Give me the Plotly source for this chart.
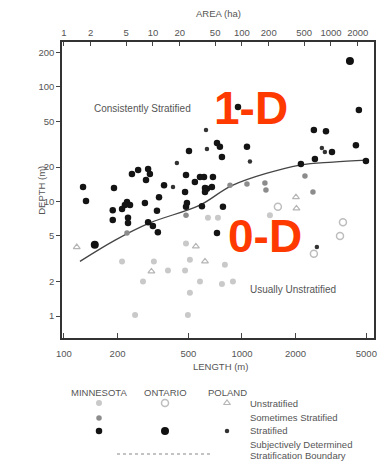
import math
import plotly.graph_objects as go

# ---------------- data (length m, depth m) ----------------
mn_strat_L = [128,133,191,241,261,297,304,289,365,504,485,479,342,285,226,235,220,188,212,333,188,229,229,297,316,337,491,485,596,544,581,612,687,620,620,636,678,782,724,752,1067,772,950,2144,4540,2536,2965,4368,3205,2570,4974,724]
mn_strat_D = [13.4,10.1,13.1,17.4,18.8,19.2,17.4,15.4,13.9,27.6,17.0,12.1,10.9,9.7,9.9,9.3,9.3,8.4,8.6,8.3,6.9,7.2,6.5,6.6,6.1,5.4,9.7,9.0,9.1,14.8,16.4,16.4,16.4,13.1,12.1,12.9,13.4,9.0,32.5,30.0,30.0,24.5,67,21.3,63,42,41,31,27.1,23.5,22.6,5.3]

on_strat_L = [4043, 149]
on_strat_D = [169, 4.2]

pl_strat_L = [431, 410, 636, 628, 1109, 2812, 2924, 2636]
pl_strat_D = [21.7, 13.4, 28.7, 42, 22.3, 29.3, 27.1, 4.0]

mn_some_L = [857, 1067, 1346, 1364, 2259, 2506, 226, 485]
mn_some_D = [13.9, 14.2, 14.5, 12.6, 16.7, 12.1, 5.3, 7.6]

mn_unstrat_L = [644, 733, 1436, 802, 772, 890, 212, 320, 384, 278, 510, 479, 581, 510, 251, 497, 485]
mn_unstrat_D = [7.2, 7.2, 7.6, 2.8, 1.9, 2.0, 3.0, 3.0, 2.5, 2.0, 3.1, 2.5, 2.0, 1.6, 1.02, 1.02, 4.3]

on_unstrat_L = [3694, 3556, 1592, 2536]
on_unstrat_D = [6.6, 5.0, 9.0, 3.5]

pl_unstrat_L = [2011, 2024, 310, 551, 620, 118]
pl_unstrat_D = [10.9, 8.7, 2.45, 4.05, 3.0, 4.0]

boundary_L = [123, 194, 304, 581, 890, 2118, 3243, 5035]
boundary_D = [3.0, 4.6, 6.5, 9.3, 13.9, 20.8, 22.1, 23.0]

x_ticks = [100, 200, 500, 1000, 2000, 5000]
y_ticks = [1, 2, 5, 10, 20, 50, 100, 200]
area_ticks = [1, 2, 5, 10, 20, 50, 100, 200, 500, 1000, 2000]

L_range = [97.5, 5520]
D_range = [0.643, 247]

FONT = "Liberation Sans, Arial, sans-serif"
TXT = "#555555"

fig = go.Figure()

def pts(L, D, color, size, symbol="circle", line_color=None, lw=0):
    fig.add_trace(go.Scatter(
        x=L, y=D, mode="markers", xaxis="x", yaxis="y",
        marker=dict(color=color, size=size, symbol=symbol,
                    line=dict(color=line_color or color, width=lw)),
        showlegend=False, hoverinfo="skip"))

fig.add_trace(go.Scatter(x=boundary_L, y=boundary_D, mode="lines",
                         line=dict(color="#444444", width=1.3, shape="spline"),
                         showlegend=False, hoverinfo="skip"))
pts(mn_unstrat_L, mn_unstrat_D, "#c9c9c9", 6)
pts(on_unstrat_L, on_unstrat_D, "#bdbdbd", 7, "circle-open", "#bdbdbd", 1.5)
pts(pl_unstrat_L, pl_unstrat_D, "#b5b5b5", 6, "triangle-up-open", "#b5b5b5", 1.2)
pts(mn_some_L, mn_some_D, "#8c8c8c", 5.5)
pts(pl_strat_L, pl_strat_D, "#333333", 4.5)
pts(mn_strat_L, mn_strat_D, "#141414", 6.5)
pts(on_strat_L, on_strat_D, "#111111", 8)

# invisible trace for top axis
area_range = [L_range[0] ** 2 / 1e4, L_range[1] ** 2 / 1e4]
fig.add_trace(go.Scatter(x=area_range, y=[1, 1], xaxis="x2", yaxis="y",
                         mode="markers", marker=dict(opacity=0),
                         showlegend=False, hoverinfo="skip"))

# ---------------- legend (page-pixel-like coordinates on a helper axis) ----------------
legend_cols = {"MINNESOTA": 99, "ONTARIO": 165, "POLAND": 227}
legend_rows = {"Unstratified": 403, "Sometimes Stratified": 418, "Stratified": 431}
legend_keys = [
    ("MINNESOTA", "Unstratified", "#c9c9c9", 6, "circle", 0),
    ("MINNESOTA", "Sometimes Stratified", "#8c8c8c", 5.5, "circle", 0),
    ("MINNESOTA", "Stratified", "#141414", 6.5, "circle", 0),
    ("ONTARIO", "Unstratified", "#bdbdbd", 7, "circle-open", 1.5),
    ("ONTARIO", "Stratified", "#111111", 8, "circle", 0),
    ("POLAND", "Unstratified", "#b5b5b5", 6, "triangle-up-open", 1.2),
    ("POLAND", "Stratified", "#333333", 4.5, "circle", 0),
]
for col, row, c, s, sym, lw in legend_keys:
    fig.add_trace(go.Scatter(x=[legend_cols[col]], y=[legend_rows[row]],
                             xaxis="x3", yaxis="y3", mode="markers",
                             marker=dict(color=c, size=s, symbol=sym, line=dict(color=c, width=lw)),
                             showlegend=False, hoverinfo="skip"))
fig.add_trace(go.Scatter(x=[117, 210], y=[454, 454], xaxis="x3", yaxis="y3", mode="lines",
                         line=dict(color="#888888", width=1.2, dash="dot"),
                         showlegend=False, hoverinfo="skip"))

annotations = []
for name, xp in legend_cols.items():
    annotations.append(dict(text=name, x=xp, y=392, xref="x3", yref="y3", showarrow=False,
                            font=dict(size=9.5, color=TXT, family=FONT)))
row_texts = [("Unstratified", 403), ("Sometimes Stratified", 417), ("Stratified", 430),
             ("Subjectively Determined", 444), ("Stratification Boundary", 455)]
for t, yp in row_texts:
    annotations.append(dict(text=t, x=248, y=yp, xref="x3", yref="y3", showarrow=False,
                            xanchor="left", font=dict(size=9.5, color=TXT, family=FONT)))
annotations.append(dict(text="LENGTH (m)", x=220, y=366, xref="x3", yref="y3", showarrow=False,
                        font=dict(size=9.5, color=TXT, family=FONT)))
annotations.append(dict(text="AREA (ha)", x=0.5, y=1 + (42 - 14) / 415, xref="paper", yref="paper",
                        showarrow=False, xanchor="center", yanchor="middle",
                        font=dict(size=9.5, color=TXT, family=FONT)))
annotations.append(dict(text="DEPTH (m)", x=-0.068, y=math.log10(12.6), xref="paper", yref="y",
                        xanchor="center", yanchor="middle",
                        textangle=-90, showarrow=False, font=dict(size=9.5, color=TXT, family=FONT)))
annotations.append(dict(text="Consistently Stratified", x=math.log10(278), y=math.log10(65),
                        xref="x", yref="y", showarrow=False, font=dict(size=10, color=TXT, family=FONT)))
annotations.append(dict(text="Usually Unstratified", x=math.log10(1930), y=math.log10(1.72),
                        xref="x", yref="y", showarrow=False, font=dict(size=10, color=TXT, family=FONT)))
annotations.append(dict(text="<b>1-D</b>", x=math.log10(1120), y=math.log10(65),
                        xref="x", yref="y", showarrow=False,
                        font=dict(size=46, color="#ff3a00", family=FONT)))
annotations.append(dict(text="<b>0-D</b>", x=math.log10(1346), y=math.log10(5.0),
                        xref="x", yref="y", showarrow=False,
                        font=dict(size=46, color="#ff3a00", family=FONT)))

main_dom = [(457 - 338) / 415, 1]
tickfont = dict(size=9.5, color=TXT, family=FONT)

# the page body has an 8px margin, so the figure is made 8px smaller and margins shifted
fig.update_layout(
    width=381, height=459,
    margin=dict(l=54, r=15, t=34, b=10),
    paper_bgcolor="white", plot_bgcolor="white",
    annotations=annotations,
    xaxis=dict(type="log", range=[math.log10(v) for v in L_range],
               tickvals=x_ticks, ticktext=[str(v) for v in x_ticks],
               ticks="inside", ticklen=5, tickcolor="#444", tickfont=tickfont,
               ticklabelstandoff=6,
               showline=True, linecolor="#333", linewidth=1.5, mirror=True,
               showgrid=False, zeroline=False, anchor="y"),
    xaxis2=dict(type="log", range=[math.log10(v) for v in area_range], overlaying="x",
                side="top", anchor="y",
                tickvals=area_ticks, ticktext=[str(v) for v in area_ticks],
                ticks="inside", ticklen=4, tickcolor="#444", tickfont=tickfont,
                ticklabelstandoff=0,
                showline=True, linecolor="#333", linewidth=1.5, showgrid=False, zeroline=False),
    yaxis=dict(type="log", range=[math.log10(v) for v in D_range], domain=main_dom,
               tickvals=y_ticks, ticktext=[str(v) for v in y_ticks],
               ticks="outside", ticklen=4, tickcolor="#444", tickfont=tickfont,
               showline=True, linecolor="#333", linewidth=1.5, mirror=True,
               showgrid=False, zeroline=False),
    xaxis3=dict(range=[62, 374], domain=[0, 1], anchor="y3", visible=False, fixedrange=True),
    yaxis3=dict(range=[457, 457 - 0.27 * 415], domain=[0, 0.27], anchor="x3", visible=False,
                fixedrange=True),
)

fig.write_html("out.html")
